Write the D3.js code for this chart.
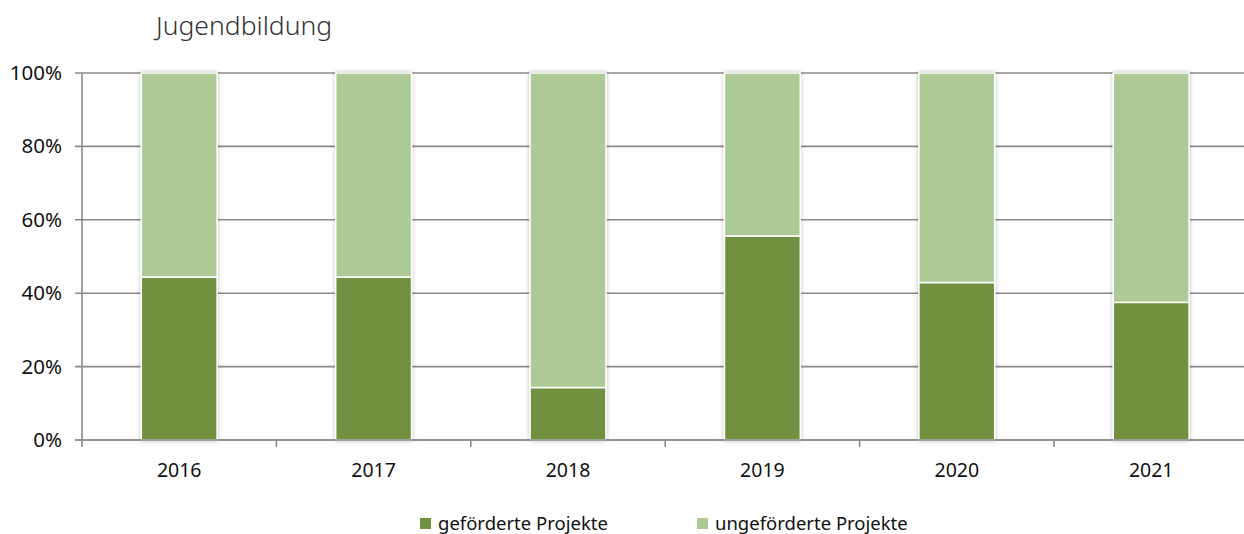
<!DOCTYPE html>
<html><head><meta charset="utf-8">
<script src="https://cdn.jsdelivr.net/npm/d3@7"></script>
<style>
body{margin:0;background:#fff;}
svg{display:block;font-family:"Noto Sans","Open Sans",sans-serif;}
</style></head>
<body><svg id="c" width="1244" height="534"></svg>
<script>
const years = ["2016","2017","2018","2019","2020","2021"];
const gefoerdert = [44.4, 44.4, 14.3, 55.6, 42.9, 37.5];
const ungefoerdert = [55.6, 55.6, 85.7, 44.4, 57.1, 62.5];
const seriesNames = ["geförderte Projekte","ungeförderte Projekte"];
const colors = ["#72913f","#adc996"];
const yTicks = [0,20,40,60,80,100];

const svg = d3.select("#c");
const plotLeft = 82, plotTop = 73, plotBottom = 440;
const x = d3.scaleBand().domain(years).range([plotLeft, plotLeft + 6*194.4]).paddingInner(0.61).paddingOuter(0.305);
const y = d3.scaleLinear().domain([0,100]).range([plotBottom, plotTop]);

const defs = svg.append("defs");
const f = defs.append("filter").attr("id","sh").attr("x","-20%").attr("y","-5%").attr("width","140%").attr("height","110%");
f.append("feDropShadow").attr("dx",0).attr("dy",0).attr("stdDeviation",2.2).attr("flood-color","#000").attr("flood-opacity",0.28);

// title
svg.append("text").attr("x",156).attr("y",35).attr("font-size",26.5).attr("font-weight",300)
  .attr("fill","#333").text("Jugendbildung");

// gridlines
svg.append("g").selectAll("line").data(yTicks).join("line")
  .attr("x1",75).attr("x2",1244).attr("y1",d=>y(d)).attr("y2",d=>y(d))
  .attr("stroke","#8a8a8a").attr("stroke-width",1.6);

// y labels
svg.append("g").selectAll("text").data(yTicks).join("text")
  .attr("x",62).attr("y",d=>y(d)+7).attr("text-anchor","end").attr("font-size",20.5).attr("fill","#111")
  .text(d=>d+"%");

// bars
const stack = years.map((yr,i)=>({yr, vals:[gefoerdert[i], ungefoerdert[i]]}));
const bg = svg.append("g");
stack.forEach(d=>{
  let base = 0;
  const g = bg.append("g").attr("filter","url(#sh)");
  d.vals.forEach((v,k)=>{
    g.append("rect").attr("x",x(d.yr)).attr("width",x.bandwidth())
      .attr("y",y(base+v)).attr("height",y(base)-y(base+v))
      .attr("fill",colors[k]).attr("stroke","#fff").attr("stroke-width",1.5);
    base += v;
  });
});

// axes lines
svg.append("line").attr("x1",plotLeft).attr("x2",plotLeft).attr("y1",plotTop).attr("y2",plotBottom+7)
  .attr("stroke","#8a8a8a").attr("stroke-width",1.6);
svg.append("line").attr("x1",75).attr("x2",1244).attr("y1",plotBottom).attr("y2",plotBottom)
  .attr("stroke","#8a8a8a").attr("stroke-width",1.6);
// x boundary ticks
const bounds = years.map(yr => x(yr) - x.step()*0.305).slice(1);
svg.append("g").selectAll("line").data(bounds).join("line")
  .attr("x1",d=>d).attr("x2",d=>d).attr("y1",plotBottom).attr("y2",plotBottom+7)
  .attr("stroke","#8a8a8a").attr("stroke-width",1.6);

// x labels
svg.append("g").selectAll("text").data(years).join("text")
  .attr("x",d=>x(d)+x.bandwidth()/2).attr("y",477).attr("text-anchor","middle")
  .attr("font-size",19.5).attr("fill","#111").text(d=>d);

// legend
const lx = [420, 697];
const lg = svg.append("g");
seriesNames.forEach((n,i)=>{
  lg.append("rect").attr("x",lx[i]).attr("y",518).attr("width",11).attr("height",11).attr("fill",colors[i]);
  lg.append("text").attr("x",lx[i]+18).attr("y",530).attr("font-size",18.5).attr("fill","#111").text(n);
});
</script></body></html>
